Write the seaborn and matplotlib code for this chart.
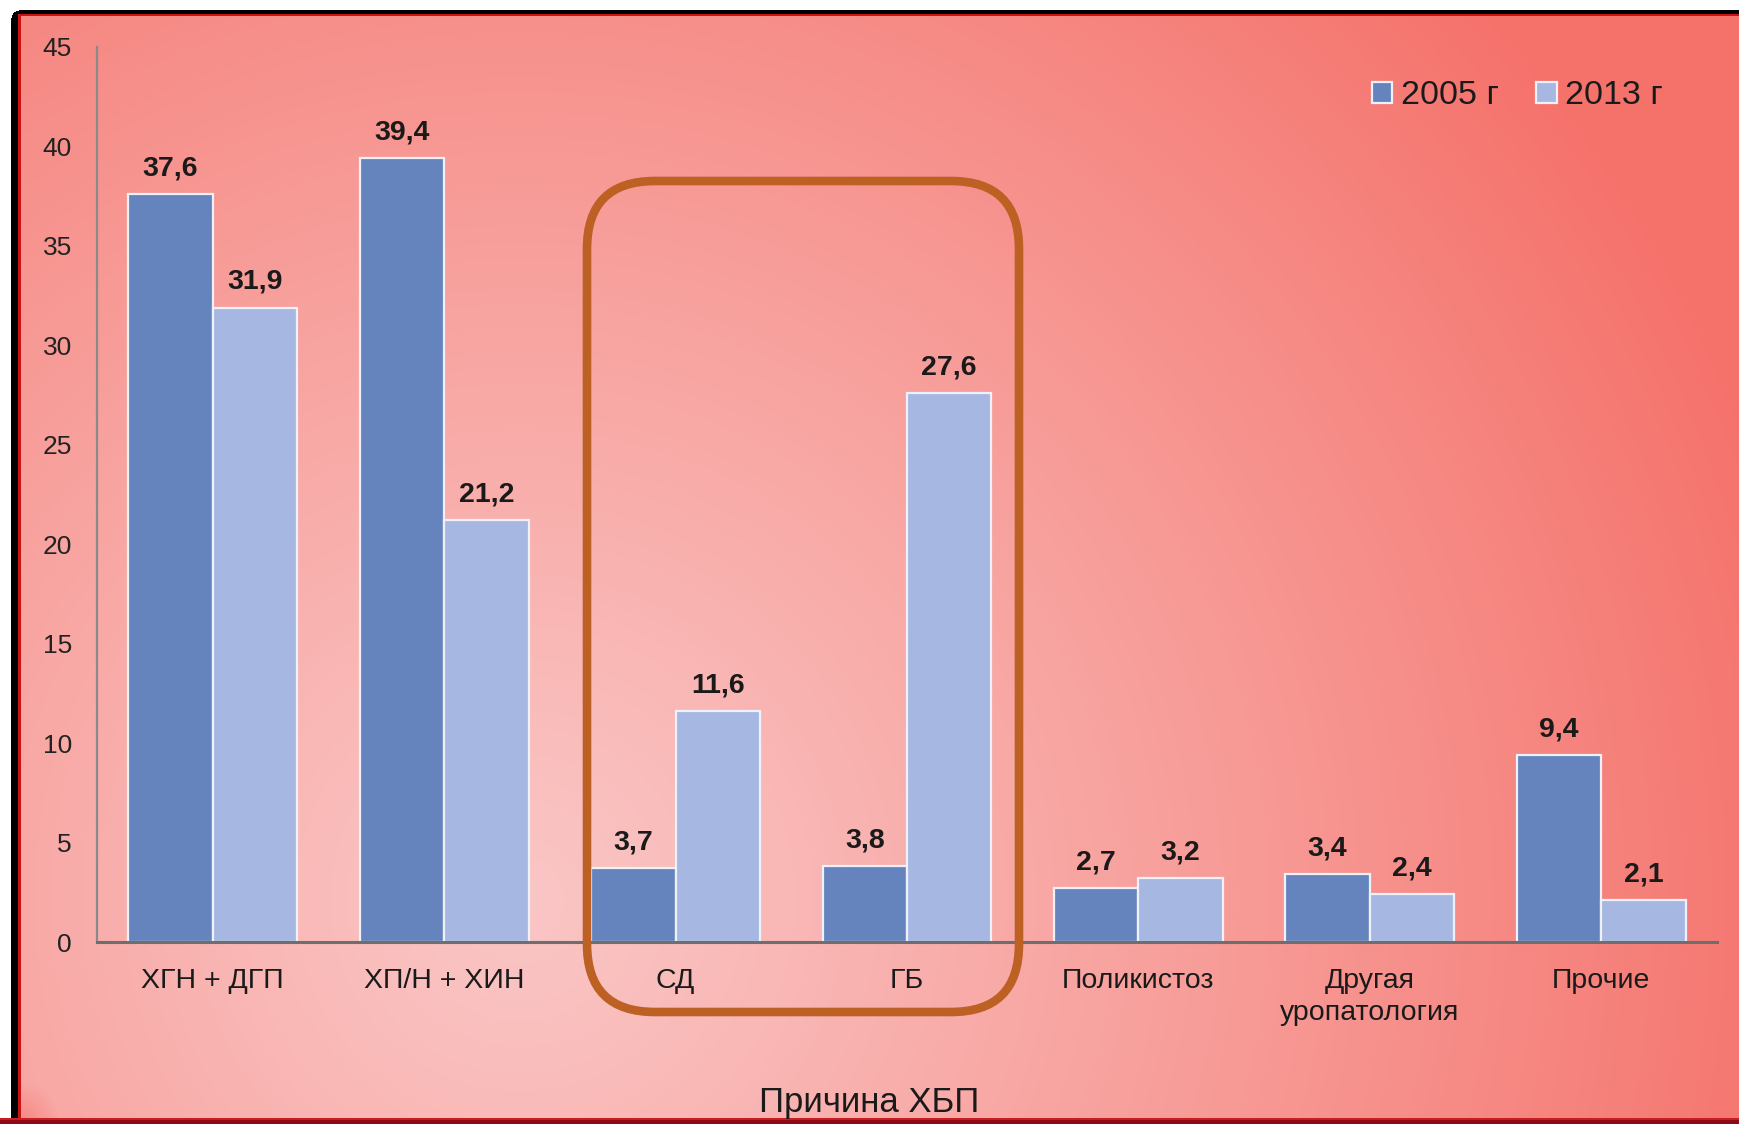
import numpy as np
import pandas as pd
import matplotlib
matplotlib.use("Agg")
import matplotlib.pyplot as plt
import seaborn as sns
from matplotlib.patches import FancyBboxPatch
from matplotlib.transforms import IdentityTransform

# ---- data ----
causes = ["ХГН + ДГП", "ХП/Н + ХИН", "СД", "ГБ", "Поликистоз",
          "Другая\nуропатология", "Прочие"]
years = ["2005 г", "2013 г"]
values_2005 = [37.6, 39.4, 3.7, 3.8, 2.7, 3.4, 9.4]
values_2013 = [31.9, 21.2, 11.6, 27.6, 3.2, 2.4, 2.1]
y_ticks = [0, 5, 10, 15, 20, 25, 30, 35, 40, 45]

df = pd.DataFrame({
    "cause": causes * 2,
    "year": [years[0]] * len(causes) + [years[1]] * len(causes),
    "value": values_2005 + values_2013,
})

W, H, DPI = 1739, 1124, 100

sns.set_style("white")
plt.rcParams["font.family"] = ["Liberation Sans", "DejaVu Sans"]

fig = plt.figure(figsize=(W / DPI, H / DPI), dpi=DPI)

# ---- slide background: soft radial pink-to-red fill with a frame ----
yy, xx = np.mgrid[0:H, 0:W].astype(float)
light = np.array([250, 198, 197]) / 255
red = np.array([245, 114, 107]) / 255
d = np.hypot(xx - 520, yy - 900)
t = np.clip(d / 1320, 0, 1) ** 1.1
corner = np.clip(1 - np.hypot(xx - 15, yy - 1124) / 80, 0, 1) * 0.8
t = np.maximum(t, corner)
img = light[None, None, :] * (1 - t[..., None]) + red[None, None, :] * t[..., None]

white = (xx < 11) | (yy < 10)
# rounded top-left corner of the frame
cx, cy, r = 19, 18, 8
rc = (xx < cx) & (yy < cy)
outside = rc & (np.hypot(xx - cx, yy - cy) > r)
img[white | outside] = 1.0
black = ~(white | outside) & (((yy >= 10) & (yy < 14)) | ((xx >= 11) & (xx < 18)))
img[black] = 0.0
redline = ~(white | outside | black) & (((yy >= 14) & (yy < 16)) | ((xx >= 18) & (xx < 21)))
img[redline] = np.array([200, 20, 20]) / 255
img[yy >= 1120] = np.array([140, 10, 20]) / 255
img[(yy >= 1118) & (yy < 1120)] = np.array([200, 30, 35]) / 255
fig.figimage(img, 0, 0, origin="upper", zorder=-5)

# ---- main axes ----
ax = fig.add_axes([97 / W, 1 - 942 / H, (1717 - 97) / W, (942 - 47) / H])
ax.set_facecolor("none")

sns.barplot(data=df, x="cause", y="value", hue="year",
            palette=["#6583BC", "#A6B7E2"], saturation=1, width=0.73,
            edgecolor="#EEF1F8", linewidth=1.6, ax=ax, zorder=2)

ax.set_ylim(0, 45)
ax.set_xlim(-0.5, len(causes) - 0.5)
ax.set_yticks(y_ticks)
ax.set_yticklabels([str(v) for v in y_ticks])
ax.tick_params(axis="y", length=0, pad=18, labelsize=19, labelcolor="#222222")
ax.tick_params(axis="x", length=0, pad=18.5, labelsize=20.5, labelcolor="#1a1a1a")
for lbl in ax.get_xticklabels():
    lbl.set_linespacing(1.3)

for side in ["top", "right"]:
    ax.spines[side].set_visible(False)
ax.spines["left"].set_color("#8a8a8a")
ax.spines["left"].set_linewidth(1.6)
ax.spines["bottom"].set_color("#6e6e6e")
ax.spines["bottom"].set_linewidth(2.2)

ax.set_ylabel("")
ax.set_xlabel("Причина ХБП", fontsize=25, color="#1a1a1a")
ax.xaxis.set_label_coords(0.4765, -0.161)

# value labels above each bar
for container in ax.containers:
    for bar in container:
        h = bar.get_height()
        ax.annotate(f"{h:.1f}".replace(".", ","),
                    (bar.get_x() + bar.get_width() / 2, h),
                    xytext=(0, 13.5), textcoords="offset points",
                    ha="center", va="baseline", fontsize=20.5,
                    fontweight="bold", color="#1a1a1a")

# legend
handles, labels = ax.get_legend_handles_labels()
ax.get_legend().remove()
leg = fig.legend(handles, labels, loc="center left",
                 bbox_to_anchor=(1372 / W, 1 - 96 / H), ncol=2,
                 frameon=False, fontsize=24.5, borderpad=0, borderaxespad=0,
                 handlelength=0.6, handleheight=0.6, handletextpad=0.25,
                 columnspacing=1.1)
for txt in leg.get_texts():
    txt.set_color("#1a1a1a")

# highlight box around the СД and ГБ groups
box = FancyBboxPatch((587, H - 1012), 1019 - 587, 1012 - 181,
                     boxstyle="round,pad=0,rounding_size=68",
                     transform=IdentityTransform(), fill=False,
                     edgecolor="#BC6024", linewidth=6.2, zorder=5)
fig.add_artist(box)

fig.savefig("out.png", dpi=DPI)
